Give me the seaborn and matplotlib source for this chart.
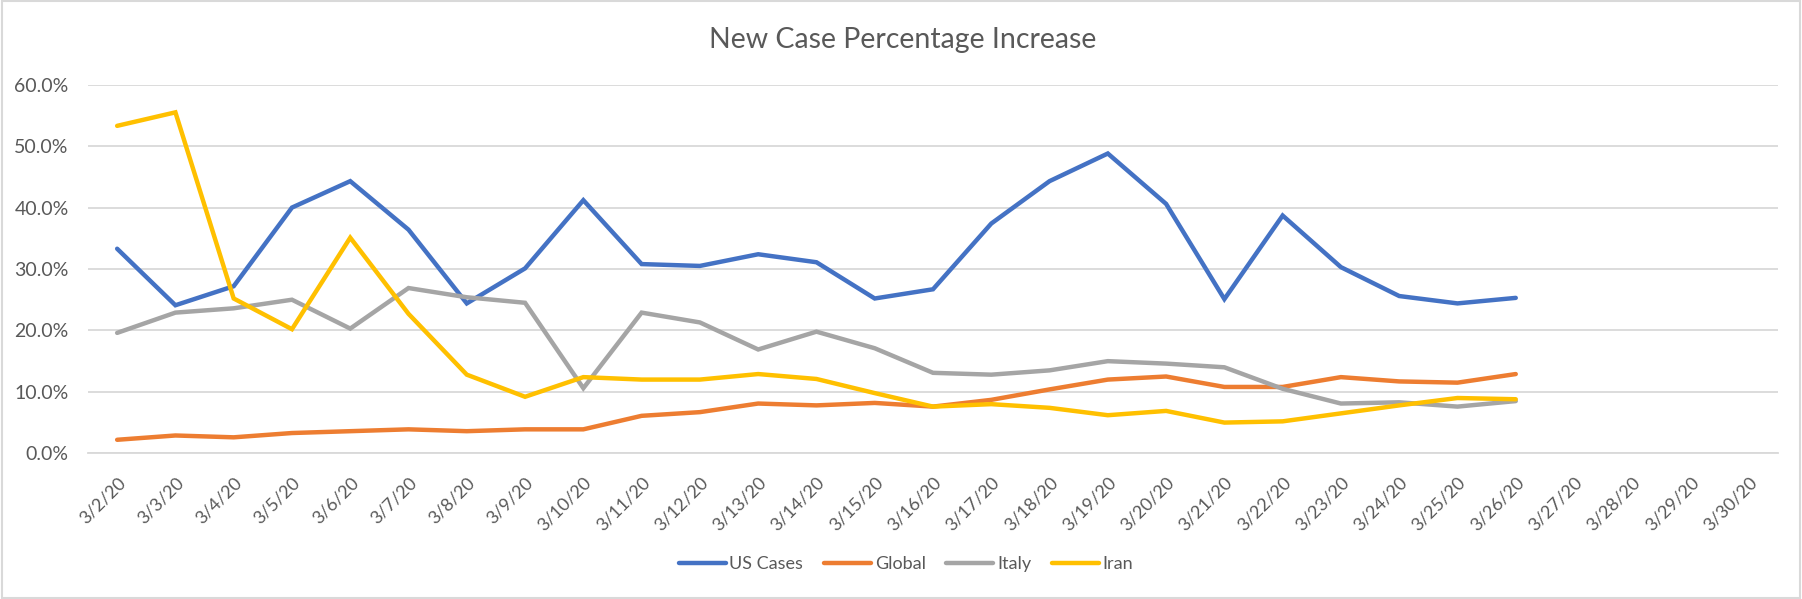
import numpy as np
import pandas as pd
import seaborn as sns
import matplotlib
matplotlib.use("Agg")
import matplotlib.pyplot as plt
from matplotlib.patches import Rectangle
from matplotlib.ticker import PercentFormatter, FixedLocator

dates = ["3/2/20", "3/3/20", "3/4/20", "3/5/20", "3/6/20", "3/7/20", "3/8/20", "3/9/20",
         "3/10/20", "3/11/20", "3/12/20", "3/13/20", "3/14/20", "3/15/20", "3/16/20",
         "3/17/20", "3/18/20", "3/19/20", "3/20/20", "3/21/20", "3/22/20", "3/23/20",
         "3/24/20", "3/25/20", "3/26/20", "3/27/20", "3/28/20", "3/29/20", "3/30/20"]

us_cases = [33.3, 24.1, 27.2, 40.0, 44.3, 36.4, 24.4, 30.1, 41.2, 30.8, 30.5, 32.4, 31.1,
            25.2, 26.7, 37.4, 44.3, 48.8, 40.6, 25.1, 38.7, 30.3, 25.6, 24.4, 25.3]
global_ = [2.2, 2.9, 2.6, 3.3, 3.6, 3.9, 3.6, 3.9, 3.9, 6.1, 6.7, 8.1, 7.8, 8.2, 7.6,
           8.7, 10.4, 12.0, 12.5, 10.8, 10.8, 12.4, 11.7, 11.5, 12.9]
italy = [19.6, 22.9, 23.6, 25.0, 20.3, 26.9, 25.4, 24.5, 10.6, 22.9, 21.3, 16.9, 19.8,
         17.1, 13.1, 12.8, 13.5, 15.0, 14.6, 14.0, 10.5, 8.1, 8.3, 7.6, 8.5]
iran = [53.3, 55.5, 25.2, 20.2, 35.1, 22.7, 12.8, 9.2, 12.4, 12.0, 12.0, 12.9, 12.1,
        9.8, 7.6, 8.0, 7.4, 6.2, 6.9, 5.0, 5.2, 6.5, 7.8, 9.0, 8.8]

series_names = ["US Cases", "Global", "Italy", "Iran"]
colors = ["#4472C4", "#ED7D31", "#A5A5A5", "#FFC000"]

rows = []
for name, vals in zip(series_names, [us_cases, global_, italy, iran]):
    for i, v in enumerate(vals):
        rows.append({"pos": i, "date": dates[i], "value": v, "series": name})
df = pd.DataFrame(rows)

sns.set_theme(style="white")
plt.rcParams["font.family"] = ["Lato", "DejaVu Sans"]
text_color = "#595959"
grid_color = "#D9D9D9"

W, H = 1802, 599
fig = plt.figure(figsize=(W / 100, H / 100), dpi=100)
left, right, top, bottom = 88, 1778, 84.7, 453.3
ax = fig.add_axes([left / W, 1 - bottom / H, (right - left) / W, (bottom - top) / H])

sns.lineplot(data=df, x="pos", y="value", hue="series", hue_order=series_names,
             palette=colors, linewidth=3.2, ax=ax, legend=True, sort=False)
for line in ax.lines:
    line.set_solid_capstyle("round")
    line.set_solid_joinstyle("miter")

ax.set_xlim(-0.5, len(dates) - 0.5)
ax.set_ylim(0, 60)
ax.set_yticks(np.arange(0, 61, 10))
ax.yaxis.set_major_formatter(PercentFormatter(decimals=1))
ax.yaxis.grid(True, color=grid_color, linewidth=1.3)
ax.set_axisbelow(True)

ax.set_xticks(range(len(dates)))
ax.set_xticklabels(dates, rotation=45, ha="right", rotation_mode="anchor")
ax.xaxis.set_minor_locator(FixedLocator(np.arange(-0.5, len(dates), 1.0)))
ax.tick_params(axis="x", which="major", length=0, pad=15, labelsize=13, labelcolor=text_color)
ax.tick_params(axis="x", which="minor", length=6, width=1.2, color=grid_color, direction="out")
ax.tick_params(axis="y", length=0, pad=14, labelsize=14, labelcolor=text_color)

for s in ["top", "right", "left"]:
    ax.spines[s].set_visible(False)
ax.spines["bottom"].set_color(grid_color)
ax.spines["bottom"].set_linewidth(1.3)
ax.set_xlabel("")
ax.set_ylabel("")

handles, labels = ax.get_legend_handles_labels()
ax.legend_.remove()
for h in handles:
    h.set_linewidth(3.2)
    h.set_solid_capstyle("round")
fig.legend(handles, labels, loc="center", bbox_to_anchor=(906 / W, 1 - 564 / H),
           ncol=4, frameon=False, fontsize=13, handlelength=2.6, handletextpad=0.2,
           columnspacing=1.15, labelcolor=text_color)

fig.text(903 / W, 1 - 40 / H, "New Case Percentage Increase", ha="center", va="center",
         fontsize=20.5, color=text_color)

fig.patches.append(Rectangle((0.001, 0.002), 0.998, 0.996, transform=fig.transFigure,
                             fill=False, edgecolor=grid_color, linewidth=1.5))

fig.savefig("out.png", dpi=100, facecolor="white")
